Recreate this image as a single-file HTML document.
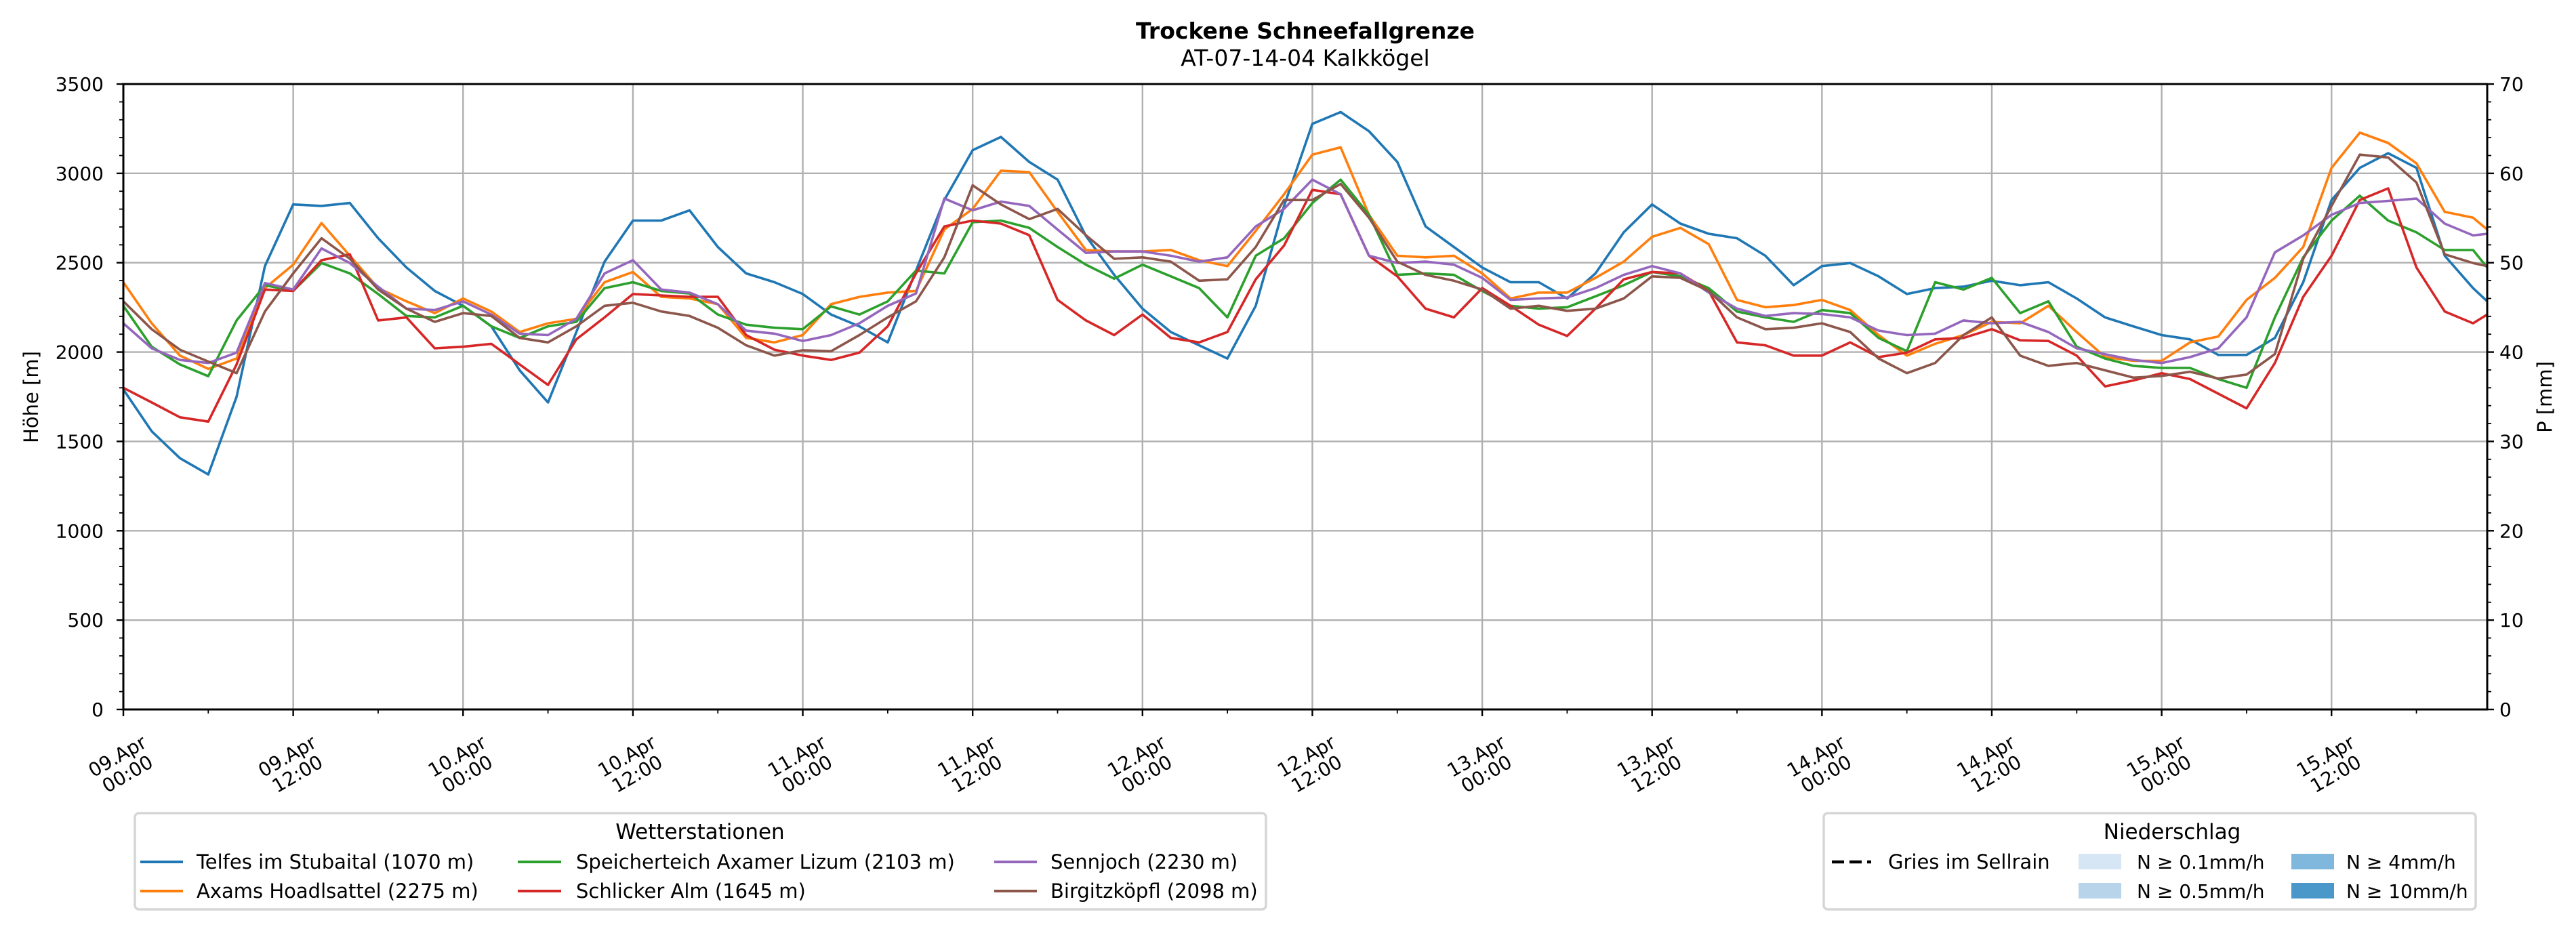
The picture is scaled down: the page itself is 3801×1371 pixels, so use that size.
<!DOCTYPE html>
<html><head><meta charset="utf-8"><style>
html,body{margin:0;padding:0;background:#fff}
svg{display:block;font-family:"DejaVu Sans","Liberation Sans",sans-serif}
</style></head><body>
<svg id="chart" xmlns="http://www.w3.org/2000/svg" width="3801" height="1371" viewBox="0 0 3801 1371">
<rect x="0" y="0" width="3801" height="1371" fill="#fff"/>
<text x="1926" y="57" text-anchor="middle" font-size="33" font-weight="bold">Trockene Schneefallgrenze</text>
<text x="1926" y="97" text-anchor="middle" font-size="33">AT-07-14-04 Kalkkögel</text>
<g id="grid"></g>
<g id="series"></g>
<g id="axes"></g>
<text x="0" y="0" transform="translate(56,586) rotate(-90)" text-anchor="middle" font-size="29">Höhe [m]</text>
<text x="0" y="0" transform="translate(3765,586) rotate(-90)" text-anchor="middle" font-size="29">P [mm]</text>

<g>
<rect x="199" y="1200" width="1669" height="142" rx="6" fill="#fff" stroke="#d6d6d6" stroke-width="3.5"/>
<text x="1033" y="1238" text-anchor="middle" font-size="31">Wetterstationen</text>
<g><line x1="207" y1="1272" x2="270" y2="1272" stroke="#1f77b4" stroke-width="4"/><text x="290" y="1282" font-size="29">Telfes im Stubaital (1070 m)</text></g>
<g><line x1="207" y1="1315" x2="270" y2="1315" stroke="#ff7f0e" stroke-width="4"/><text x="290" y="1325" font-size="29">Axams Hoadlsattel (2275 m)</text></g>
<g><line x1="764" y1="1272" x2="828" y2="1272" stroke="#2ca02c" stroke-width="4"/><text x="850" y="1282" font-size="29">Speicherteich Axamer Lizum (2103 m)</text></g>
<g><line x1="764" y1="1315" x2="828" y2="1315" stroke="#d62728" stroke-width="4"/><text x="850" y="1325" font-size="29">Schlicker Alm (1645 m)</text></g>
<g><line x1="1467" y1="1272" x2="1530" y2="1272" stroke="#9467bd" stroke-width="4"/><text x="1550" y="1282" font-size="29">Sennjoch (2230 m)</text></g>
<g><line x1="1467" y1="1315" x2="1530" y2="1315" stroke="#8c564b" stroke-width="4"/><text x="1550" y="1325" font-size="29">Birgitzköpfl (2098 m)</text></g>
</g>

<g>
<rect x="2691" y="1200" width="962" height="142" rx="6" fill="#fff" stroke="#d6d6d6" stroke-width="3.5"/>
<text x="3205" y="1238" text-anchor="middle" font-size="31">Niederschlag</text>
<g><line x1="2703" y1="1272" x2="2761" y2="1272" stroke="#000" stroke-width="4.5" stroke-dasharray="18,8"/><text x="2786" y="1282" font-size="29">Gries im Sellrain</text></g>
<g><rect x="3067" y="1260" width="63" height="23" fill="#d6e6f4"/><text x="3153" y="1282" font-size="28">N ≥ 0.1mm/h</text></g>
<g><rect x="3067" y="1303" width="63" height="23" fill="#b8d4ea"/><text x="3153" y="1325" font-size="28">N ≥ 0.5mm/h</text></g>
<g><rect x="3381" y="1260" width="63" height="23" fill="#80b7dc"/><text x="3462" y="1282" font-size="28">N ≥ 4mm/h</text></g>
<g><rect x="3381" y="1303" width="63" height="23" fill="#4a97c9"/><text x="3462" y="1325" font-size="28">N ≥ 10mm/h</text></g>
</g>
</svg>
<script>
const hours = [0,2,4,6,8,10,12,14,16,18,20,22,24,26,28,30,32,34,36,38,40,42,44,46,48,50,52,54,56,58,60,62,64,66,68,70,72,74,76,78,80,82,84,86,88,90,92,94,96,98,100,102,104,106,108,110,112,114,116,118,120,122,124,126,128,130,132,134,136,138,140,142,144,146,148,150,152,154,156,158,160,162,164,166,167];
const telfes = [1791,1557,1406,1315,1750,2481,2826,2818,2834,2637,2473,2342,2259,2144,1898,1718,2112,2506,2736,2736,2793,2588,2440,2391,2325,2210,2144,2054,2456,2851,3130,3204,3064,2965,2650,2432,2243,2112,2038,1964,2259,2818,3277,3343,3236,3064,2703,2588,2473,2391,2391,2300,2440,2670,2826,2719,2662,2637,2539,2374,2481,2498,2424,2325,2358,2366,2399,2374,2391,2300,2194,2144,2095,2071,1984,1984,2079,2391,2851,3031,3113,3031,2539,2358,2284];
const axams = [2391,2161,1980,1906,1964,2358,2489,2722,2539,2358,2284,2218,2300,2227,2112,2161,2186,2391,2448,2309,2300,2268,2079,2054,2095,2268,2309,2333,2342,2686,2801,3015,3007,2785,2571,2563,2563,2571,2514,2481,2678,2883,3105,3146,2768,2539,2530,2539,2440,2300,2333,2333,2415,2506,2645,2695,2604,2292,2251,2263,2292,2235,2095,1980,2046,2095,2169,2161,2259,2112,1972,1951,1951,2054,2087,2292,2415,2588,3031,3228,3170,3056,2785,2752,2686];
const speicherteich = [2259,2030,1931,1865,2177,2374,2342,2498,2440,2325,2202,2194,2259,2144,2079,2144,2169,2358,2391,2342,2328,2210,2153,2136,2128,2256,2210,2284,2456,2440,2727,2736,2695,2588,2489,2411,2489,2424,2358,2194,2539,2637,2834,2965,2768,2432,2440,2432,2342,2259,2243,2251,2312,2374,2448,2424,2358,2227,2194,2169,2235,2218,2079,2005,2391,2350,2415,2218,2284,2030,1964,1923,1911,1911,1849,1800,2194,2530,2736,2875,2736,2670,2571,2571,2473];
const schlicker = [1800,1718,1635,1611,1931,2350,2342,2514,2547,2177,2194,2021,2030,2046,1931,1816,2071,2194,2325,2317,2309,2309,2095,2013,1980,1956,1997,2144,2440,2703,2736,2719,2654,2292,2177,2095,2210,2079,2054,2112,2407,2596,2908,2883,2539,2424,2243,2194,2358,2259,2153,2090,2243,2407,2448,2440,2342,2054,2038,1980,1980,2054,1972,1997,2071,2079,2128,2066,2062,1980,1808,1841,1882,1849,1767,1685,1939,2309,2539,2851,2916,2473,2227,2161,2210];
const sennjoch = [2161,2021,1956,1939,1997,2386,2350,2580,2498,2366,2243,2235,2284,2210,2103,2095,2186,2440,2514,2350,2333,2268,2120,2103,2062,2095,2161,2259,2328,2859,2793,2842,2818,2686,2555,2563,2563,2539,2506,2530,2703,2801,2965,2883,2539,2498,2506,2489,2415,2292,2300,2305,2358,2432,2481,2440,2333,2243,2202,2218,2213,2194,2120,2095,2103,2177,2161,2169,2112,2021,1988,1956,1939,1972,2021,2194,2558,2653,2768,2834,2846,2859,2719,2653,2662];
const birgitz = [2284,2128,2013,1947,1882,2227,2440,2637,2522,2350,2243,2169,2218,2202,2079,2054,2144,2259,2276,2227,2202,2136,2038,1980,2010,2005,2095,2194,2284,2530,2933,2826,2744,2801,2654,2522,2530,2506,2399,2407,2588,2851,2851,2941,2752,2506,2432,2399,2350,2243,2259,2231,2243,2300,2424,2415,2342,2194,2128,2136,2161,2112,1964,1882,1939,2095,2194,1980,1923,1939,1898,1857,1866,1890,1852,1874,1989,2522,2818,3105,3089,2949,2547,2498,2481];
const yTicks = [0,500,1000,1500,2000,2500,3000,3500];
const y2Ticks = [0,10,20,30,40,50,60,70];
const xTickHours = [0,12,24,36,48,60,72,84,96,108,120,132,144,156];
const xTickDays = ["09.Apr","09.Apr","10.Apr","10.Apr","11.Apr","11.Apr","12.Apr","12.Apr","13.Apr","13.Apr","14.Apr","14.Apr","15.Apr","15.Apr"];
const xTickTimes = ["00:00","12:00","00:00","12:00","00:00","12:00","00:00","12:00","00:00","12:00","00:00","12:00","00:00","12:00"];

const NS="http://www.w3.org/2000/svg";
const L=182,R=3670,T=124,B=1047;
const xS=h=>L+h*(R-L)/167;
const yS=v=>B-v*(B-T)/3500;
const y2S=v=>B-v*(B-T)/70;
function mk(tag,attrs,parent){const e=document.createElementNS(NS,tag);for(const k in attrs)e.setAttribute(k,attrs[k]);parent.appendChild(e);return e;}
const grid=document.getElementById('grid'),axes=document.getElementById('axes'),ser=document.getElementById('series');
yTicks.forEach(v=>{const g=mk('line',{x1:L,x2:R,y1:yS(v),y2:yS(v),stroke:'#b0b0b0','stroke-width':2.4},grid);


const t=mk('text',{x:L-29,y:yS(v)+10,'text-anchor':'end','font-size':28},axes);t.textContent=v;


mk('line',{x1:L-10,x2:L,y1:yS(v),y2:yS(v),stroke:'#000','stroke-width':2.4},axes);});
for(let v=0;v<=3500;v+=100){mk('line',{x1:L-6,x2:L,y1:yS(v),y2:yS(v),stroke:'#000','stroke-width':1.8},axes);}
y2Ticks.forEach(v=>{const t=mk('text',{x:R+18,y:y2S(v)+10,'font-size':28},axes);t.textContent=v;


mk('line',{x1:R,x2:R+10,y1:y2S(v),y2:y2S(v),stroke:'#000','stroke-width':2.4},axes);});
for(let v=0;v<=70;v+=2){mk('line',{x1:R,x2:R+6,y1:y2S(v),y2:y2S(v),stroke:'#000','stroke-width':1.8},axes);}
xTickHours.forEach((h,i)=>{const x=xS(h);
const g=mk('line',{x1:x,x2:x,y1:T,y2:B,stroke:'#b0b0b0','stroke-width':2.4},grid);


mk('line',{x1:x,x2:x,y1:B,y2:B+10,stroke:'#000','stroke-width':2.4},axes);
mk('line',{x1:x+xS(6)-L,x2:x+xS(6)-L,y1:B,y2:B+6,stroke:'#000','stroke-width':1.8},axes);
const cx=x-2,cy=1128;
const tg=mk('g',{transform:`rotate(-30 ${cx} ${cy})`},axes);


const a=mk('text',{x:cx,y:cy-4,'text-anchor':'middle','font-size':28},tg);a.textContent=xTickDays[i];
const b=mk('text',{x:cx,y:cy+26,'text-anchor':'middle','font-size':28},tg);b.textContent=xTickTimes[i];});
const seriesList=[['telfes',telfes,'#1f77b4'],['axams',axams,'#ff7f0e'],['speicherteich',speicherteich,'#2ca02c'],['schlicker',schlicker,'#d62728'],['sennjoch',sennjoch,'#9467bd'],['birgitz',birgitz,'#8c564b']];
seriesList.forEach(([n,d,c])=>{const p=mk('polyline',{points:d.map((v,i)=>xS(hours[i]).toFixed(1)+','+yS(v).toFixed(1)).join(' '),fill:'none',stroke:c,'stroke-width':3.6,'stroke-linejoin':'round'},ser);

});
const fr=mk('rect',{x:L,y:T,width:R-L,height:B-T,fill:'none',stroke:'#000','stroke-width':3},axes);


</script>
</body></html>
